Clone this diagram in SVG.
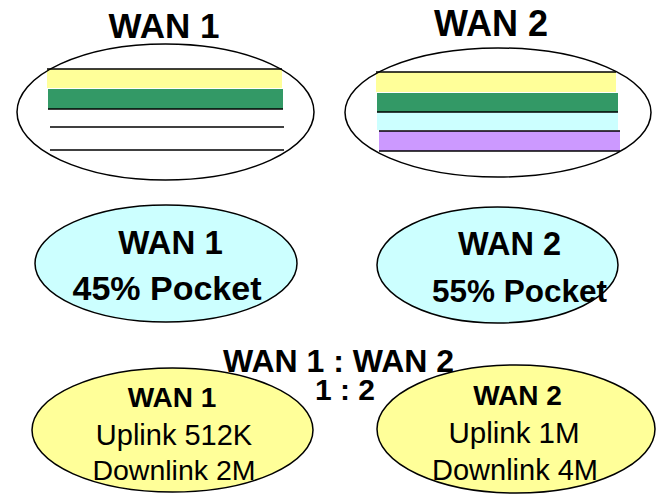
<svg xmlns="http://www.w3.org/2000/svg" width="661" height="496" viewBox="0 0 661 496">
<style>
text{font-family:"Liberation Sans",Arial,sans-serif;fill:#000;text-anchor:middle}
.b{font-weight:bold}
.ol{fill:none;stroke:#000;stroke-width:1.5}
.ln{stroke:#000;stroke-width:1.5}
.cy{fill:#CCFFFF;stroke:#000;stroke-width:1.5}
.ye{fill:#FFFF99;stroke:#000;stroke-width:1.5}
</style>
<rect width="661" height="496" fill="#fff"/>
<g id="wan1-top">
<text class="b" x="164" y="38" font-size="35">WAN 1</text>
<rect x="47" y="69" width="235" height="19" fill="#FFFF99"/>
<rect x="48" y="89" width="235" height="20" fill="#339966"/>
<line class="ln" x1="47" y1="69" x2="282" y2="69"/>
<line class="ln" x1="48" y1="109" x2="283" y2="109"/>
<line class="ln" x1="50" y1="127" x2="284" y2="127"/>
<line class="ln" x1="50" y1="150" x2="284" y2="150"/>
<ellipse class="ol" cx="165.5" cy="112" rx="148.5" ry="68"/>
</g>
<g id="wan2-top">
<text class="b" x="491" y="36" font-size="36">WAN 2</text>
<rect x="376" y="72" width="240" height="20" fill="#FFFF99"/>
<rect x="377" y="93" width="241" height="19" fill="#339966"/>
<rect x="377" y="112" width="241" height="18" fill="#CCFFFF"/>
<rect x="379" y="131" width="241" height="20" fill="#CC99FF"/>
<line class="ln" x1="376" y1="72" x2="616" y2="72"/>
<line class="ln" x1="377" y1="112" x2="618" y2="112"/>
<line class="ln" x1="379" y1="131" x2="620" y2="131"/>
<line class="ln" x1="379" y1="151" x2="620" y2="151"/>
<ellipse class="ol" cx="498" cy="112.5" rx="153" ry="64.5"/>
</g>
<g id="wan1-pocket">
<ellipse class="cy" cx="166" cy="263.5" rx="131" ry="58.5"/>
<text class="b" x="170.5" y="254" font-size="33">WAN 1</text>
<text class="b" x="167" y="300" font-size="34">45% Pocket</text>
</g>
<g id="wan2-pocket">
<ellipse class="cy" cx="497.5" cy="265" rx="120.5" ry="58"/>
<text class="b" x="509.5" y="255" font-size="32.5">WAN 2</text>
<text class="b" x="519.5" y="302" font-size="31.5">55% Pocket</text>
</g>
<g id="ratio">
<text class="b" x="338.5" y="372" font-size="32">WAN 1 : WAN 2</text>
<text class="b" x="345" y="400" font-size="30">1 : 2</text>
</g>
<g id="wan1-link">
<ellipse class="ye" cx="172.5" cy="430" rx="140.5" ry="62"/>
<text class="b" x="172" y="407" font-size="28">WAN 1</text>
<text x="174" y="445" font-size="29">Uplink 512K</text>
<text x="174" y="480" font-size="28.5">Downlink 2M</text>
</g>
<g id="wan2-link">
<ellipse class="ye" cx="516" cy="429" rx="139" ry="64"/>
<text class="b" x="517.5" y="405" font-size="28">WAN 2</text>
<text x="514" y="443" font-size="29.5">Uplink 1M</text>
<text x="515" y="480" font-size="29">Downlink 4M</text>
</g>
</svg>
